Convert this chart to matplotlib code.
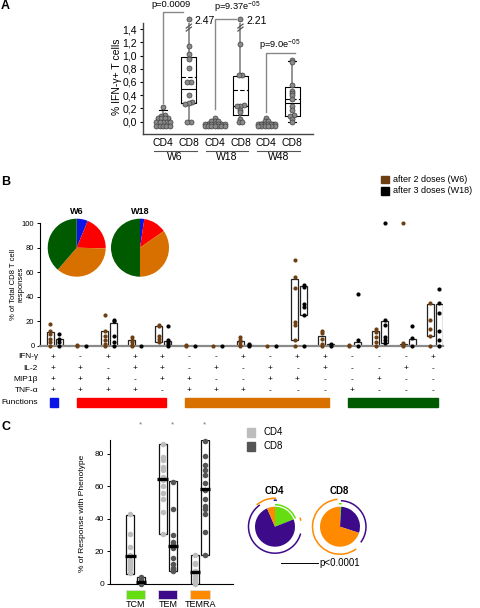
import matplotlib
matplotlib.use("Agg")
import matplotlib.pyplot as plt
import numpy as np
from matplotlib import transforms
from matplotlib.patches import Rectangle, Arc

plt.rcParams["font.family"] = ["Liberation Sans", "DejaVu Sans"]
plt.rcParams["mathtext.default"] = "regular"

W, H = 480, 608

# === Panel A: % IFN-g+ T cells ===
a_groups = ["CD4", "CD8", "CD4", "CD8", "CD4", "CD8"]
a_weeks = ["W6", "W18", "W48"]
a_points = [
    [0.22, 0.10, 0.09, 0.05, 0.05, 0.05, 0.05, 0.0, 0.0, 0.0, 0.0, 0.0,
     -0.06, -0.06, -0.06, -0.06, -0.06],
    [2.47, 1.15, 1.02, 0.95, 0.81, 0.60, 0.60, 0.41, 0.30, 0.29, 0.27, 0.0, 0.0],
    [0.05, 0.01, 0.01, 0.01, -0.03, -0.03, -0.03, -0.03, -0.03, -0.03, -0.03,
     -0.07, -0.07, -0.07, -0.07, -0.07, -0.07, -0.07],
    [2.21, 1.18, 0.70, 0.70, 0.25, 0.24, 0.23, 0.18, 0.15, 0.04, 0.0, 0.0],
    [0.05, 0.01, 0.01, -0.03, -0.03, -0.03, -0.03, -0.03, -0.03,
     -0.07, -0.07, -0.07, -0.07, -0.07, -0.07],
    [0.93, 0.90, 0.55, 0.47, 0.44, 0.41, 0.35, 0.24, 0.17, 0.10, 0.08, 0.04, 0.0],
]
a_q1 = [0.0, 0.28, 0.0, 0.10, 0.0, 0.09]
a_med = [0.0, 0.50, 0.0, 0.24, 0.0, 0.29]
a_q3 = [0.05, 0.98, 0.0, 0.69, 0.0, 0.52]
a_mean = [np.nan, 0.67, np.nan, 0.48, np.nan, 0.35]
a_whislo = [0.0, 0.0, 0.0, 0.0, 0.0, 0.0]
a_whishi = [0.18, 2.47, 0.0, 2.21, 0.0, 0.92]
a_pvals = ["p=0.0009", "p=9.37e$^{-05}$", "p=9.0e$^{-05}$"]
a_yticks = [0.0, 0.2, 0.4, 0.6, 0.8, 1.0, 1.2, 1.4]

# === Panel B: CD8 functional profiles ===
b_ifng = "+-+++--+-++---+"
b_il2 = "++-++-+-+-+--+-"
b_mip = "+++-++--++--+--"
b_tnf = "++++-+++---+---"
b_rows = ["IFN-\u03b3", "IL-2", "MIP1\u03b2", "TNF-\u03b1"]
b_w6 = [
    [18, 12, 10, 6, 3, 0], [1, 0], [25, 12, 8, 5, 2, 0], [7, 5, 3, 1, 0],
    [17, 16, 8, 6, 3], [1, 0], [0], [7, 5, 3, 1, 0], [0],
    [70, 56, 47, 19.5, 17, 4.5, 0], [12.5, 10.5, 6, 2, 0], [1, 0],
    [14, 11, 7, 3, 0], [100, 2.5, 1, 0], [35, 21, 14, 8, 0],
]
b_w18 = [
    [10, 6, 3, 0], [0], [21, 20, 8, 3, 0], [0], [16, 5, 3, 2, 0], [0], [0],
    [2, 1, 0], [0], [50, 48, 34.5, 32, 25, 0], [2, 0], [42.5, 4.5, 0],
    [100, 21, 17, 7, 4.5, 2.5], [16.3, 6.5, 0], [46, 35, 27, 12, 4.5, 0],
]
b_w6_lo = [0, np.nan, 0, 0, 3, np.nan, np.nan, 0, np.nan, 4.5, 0, np.nan, 0, 0, 8]
b_w6_hi = [11, np.nan, 12, 5, 16, np.nan, np.nan, 4, np.nan, 54.5, 8, np.nan, 12, 2, 34]
b_w18_lo = [1, np.nan, 0, np.nan, 1, np.nan, np.nan, 0, np.nan, 25, 0, 0, 2.5, 0, 0]
b_w18_hi = [6, np.nan, 19, np.nan, 4, np.nan, np.nan, 1, np.nan, 49, 1.5, 3.5, 20, 6, 34]
b_pie_titles = ["W6", "W18"]
b_pie_fracs = [[6.2, 19.2, 35.9, 38.7], [2.4, 12.9, 34.7, 50.0]]
b_legend = ["after 2 doses (W6)", "after 3 doses (W18)"]

# === Panel C: memory phenotype ===
c_phen = ["TCM", "TEM", "TEMRA"]
c_cd4 = [[43, 31, 23, 18, 15, 13, 11, 9, 7],
         [86, 78, 76, 72, 70, 66, 64, 60, 56, 52, 44, 31],
         [18, 13, 12, 8, 7, 5, 3, 2, 0]]
c_cd8 = [[4, 3, 2, 1, 0],
         [63, 46, 30, 26, 24, 22, 16, 12, 10, 9, 8],
         [88, 79, 73, 70, 67, 62, 58, 52, 48, 46, 43, 32, 18]]
c_cd4_box = [(6.2, 42.5), (30.8, 86.2), (0, 17.8)]
c_cd8_box = [(0, 4), (8.2, 63.6), (17.8, 88.6)]
c_cd4_med = [17.4, 64.4, 7.4]
c_cd8_med = [1.5, 23.6, 58.3]
c_pie_cd4 = [19.0, 74.5, 6.5]
c_pie_cd8 = [1.0, 29.0, 70.0]

# colours
fn_colors = {4: "#0a14e6", 3: "#ff0000", 2: "#d87000", 1: "#005a00"}
brown = "#6e3f13"
phen_colors = ["#66dd11", "#3d0a8a", "#ff8a00"]
cd4_gray, cd8_gray = "#bdbdbd", "#555555"


def fx(px):
    return px / W


def fy(py):
    return 1 - py / H


def px_axes(l, t, r, b):
    return fig.add_axes([l / W, 1 - b / H, (r - l) / W, (b - t) / H])


def swarm(vals, step, thr):
    vals = np.asarray(vals, float)
    order = np.argsort(vals)
    offs = np.zeros(len(vals))
    groups, cur = [], [order[0]]
    for p, c in zip(order[:-1], order[1:]):
        if vals[c] - vals[p] < thr:
            cur.append(c)
        else:
            groups.append(cur)
            cur = [c]
    groups.append(cur)
    for g in groups:
        for k, idx in enumerate(g):
            offs[idx] = (k - (len(g) - 1) / 2) * step
    return offs


fig = plt.figure(figsize=(W / 100, H / 100), dpi=100)

# ------------------------------------------------------------------ A
BREAK, SHOWN = 1.45, 1.55
axA = px_axes(143, 22.7, 313, 134)
axA.set_xlim(-0.775, 5.81)
axA.set_ylim(-0.186, 1.496)
pos = np.arange(6)
for i in range(6):
    hi = a_whishi[i] if a_whishi[i] <= BREAK else SHOWN
    st = dict(med=a_med[i], q1=a_q1[i], q3=a_q3[i], whislo=a_whislo[i], whishi=hi, fliers=[])
    has_mean = not np.isnan(a_mean[i])
    if has_mean:
        st["mean"] = a_mean[i]
    axA.bxp([st], positions=[i], widths=0.58, showmeans=has_mean, meanline=True,
            showcaps=True, patch_artist=False,
            boxprops=dict(color="black", lw=0.8),
            medianprops=dict(color="black", lw=0.8),
            meanprops=dict(color="black", lw=0.8, ls=(0, (4, 2))),
            whiskerprops=dict(color="#777777", lw=1.1),
            capprops=dict(color="black", lw=0.8),
            capwidths=0.3, manage_ticks=False)
    vals = np.array(a_points[i], float)
    shown = np.where(vals > BREAK, SHOWN, vals)
    xs = i + swarm(shown, 0.13, 0.025)
    axA.scatter(xs, shown, s=13, facecolor="#8a8a8a", edgecolor="#404040",
                lw=0.5, zorder=4, clip_on=False)
    if a_whishi[i] > BREAK:
        for dy in (0.0, 0.045):
            axA.plot([i - 0.1, i + 0.1], [1.37 + dy, 1.43 + dy], color="#555555",
                     lw=0.9, clip_on=False, zorder=5)
        axA.text(i + 0.22, SHOWN - 0.025, f"{a_whishi[i]:.2f}", fontsize=7.5,
                 va="center", ha="left")

a_br_lo = [0.28, 0.19, 0.15]
a_br_hi = [1.66, 1.55, 1.04]
a_br_x1 = [0.78, 2.83, 5.1]
a_ptx = [0.31, 2.87, 4.53]
a_pty = [1.765, 1.735, 1.16]
for k in range(3):
    x0 = 2 * k
    axA.plot([x0, x0, a_br_x1[k]], [a_br_lo[k], a_br_hi[k], a_br_hi[k]],
             color="#888888", lw=1.0, clip_on=False)
    axA.text(a_ptx[k], a_pty[k], a_pvals[k], fontsize=6.7, ha="center", va="center")

axA.set_yticks(a_yticks)
axA.set_yticklabels([f"{v:.1f}".replace(".", ",") for v in a_yticks], fontsize=7.5)
axA.set_xticks(pos)
axA.set_xticklabels(a_groups, fontsize=7.5)
axA.tick_params(axis="x", length=0, pad=3)
axA.tick_params(axis="y", length=2.5, width=0.8, pad=2)
for s in ("top", "right"):
    axA.spines[s].set_visible(False)
for s in ("left", "bottom"):
    axA.spines[s].set_color("#444444")
    axA.spines[s].set_linewidth(1.0)
axA.patch.set_alpha(0)
trA = transforms.blended_transform_factory(axA.transData, fig.transFigure)
for k, wk in enumerate(a_weeks):
    axA.plot([2 * k - 0.35, 2 * k + 1.3], [fy(151), fy(151)], color="#555555",
             lw=0.8, transform=trA, clip_on=False)
    axA.text(2 * k + 0.47, fy(157.5), wk, fontsize=7.5, ha="center", va="center",
             transform=trA)
fig.text(fx(117), fy(77), "% IFN-\u03b3+ T cells", rotation=90, fontsize=7.5,
         ha="center", va="center")

# ------------------------------------------------------------------ B
axB = px_axes(40, 223, 443, 346)
axB.set_xlim(-0.49, 14.36)
axB.set_ylim(0, 100)
ncat = len(b_w6)
for i in range(ncat):
    for pts, lo, hi, off, col in ((b_w6[i], b_w6_lo[i], b_w6_hi[i], -0.11, brown),
                                   (b_w18[i], b_w18_lo[i], b_w18_hi[i], 0.22, "black")):
        if not np.isnan(lo):
            axB.add_patch(Rectangle((i + off - 0.13, lo), 0.26, hi - lo,
                                    facecolor="white", edgecolor="#222222",
                                    lw=0.9, zorder=2))
        axB.scatter(np.full(len(pts), i + off), pts, s=9, color=col, lw=0,
                    zorder=3, clip_on=False)
axB.set_yticks(range(0, 101, 20))
axB.tick_params(axis="y", labelsize=5.5, length=2.5, width=0.7, pad=1.5)
axB.set_xticks([])
for s in ("top", "right"):
    axB.spines[s].set_visible(False)
axB.spines["left"].set_linewidth(0.8)
axB.spines["bottom"].set_color("#8a8a8a")
axB.spines["bottom"].set_linewidth(1.6)
axB.patch.set_alpha(0)
fig.text(fx(17), fy(284), "% of Total CD8 T cell\nresponses", rotation=90,
         fontsize=5.5, ha="center", va="center", linespacing=1.1)

trB = transforms.blended_transform_factory(axB.transData, fig.transFigure)
row_y = [357, 368.3, 379.6, 390.9]
for r, (name, signs) in enumerate(zip(b_rows, (b_ifng, b_il2, b_mip, b_tnf))):
    fig.text(fx(38), fy(row_y[r]), name, fontsize=6, ha="right", va="center")
    for i, sg in enumerate(signs):
        axB.text(i, fy(row_y[r]), sg, fontsize=6, ha="center", va="center",
                 transform=trB)
fig.text(fx(38), fy(402.5), "Functions", fontsize=6, ha="right", va="center")
nfun = [sum(s[i] == "+" for s in (b_ifng, b_il2, b_mip, b_tnf)) for i in range(ncat)]
start = 0
for i in range(1, ncat + 1):
    if i == ncat or nfun[i] != nfun[start]:
        axB.add_patch(Rectangle((start - 0.13, fy(406.5)), (i - 1 - start) + 0.3,
                                fy(398) - fy(406.5), color=fn_colors[nfun[start]],
                                transform=trB, clip_on=False))
        start = i

pie_cx = [76.7, 140]
for k in range(2):
    axp = px_axes(pie_cx[k] - 30, 247.7 - 30, pie_cx[k] + 30, 247.7 + 30)
    axp.pie(b_pie_fracs[k], colors=[fn_colors[4], fn_colors[3], fn_colors[2], fn_colors[1]],
            startangle=90, counterclock=False, radius=29)
    axp.set_xlim(-30, 30)
    axp.set_ylim(-30, 30)
    axp.set_aspect("equal")
    axp.axis("off")
    fig.text(fx(pie_cx[k]), fy(212), b_pie_titles[k], fontsize=6.5, weight="bold",
             ha="center", va="center")

for k, (lab, col) in enumerate(zip(b_legend, (brown, "black"))):
    y0 = 176 + 11 * k
    fig.add_artist(Rectangle((fx(381), fy(y0 + 7.5)), 8 / W, 7.5 / H, color=col,
                             transform=fig.transFigure))
    fig.text(fx(393), fy(y0 + 3.8), lab, fontsize=6.5, ha="left", va="center")

# ------------------------------------------------------------------ C
axC = px_axes(110, 440, 233, 584)
axC.set_xlim(-0.79, 3.02)
axC.set_ylim(0, 88.6)
for i in range(3):
    for pts, box, med, off, col in ((c_cd4[i], c_cd4_box[i], c_cd4_med[i], -0.16, cd4_gray),
                                    (c_cd8[i], c_cd8_box[i], c_cd8_med[i], 0.16, cd8_gray)):
        axC.add_patch(Rectangle((i + off - 0.125, box[0]), 0.25, box[1] - box[0],
                                facecolor="white", edgecolor="#111111", lw=0.9, zorder=2))
        axC.scatter(np.full(len(pts), i + off), pts, s=16, color=col, lw=0,
                    zorder=3, clip_on=False)
        axC.plot([i + off - 0.16, i + off + 0.16], [med, med], color="black", lw=2.4,
                 zorder=4, solid_capstyle="butt")
    axC.text(i + 0.15, 98, "*", fontsize=6, color="#777777", ha="center", va="center",
             clip_on=False)
axC.set_yticks([0, 20, 40, 60, 80])
axC.tick_params(axis="y", labelsize=6, length=2.5, width=0.7, pad=1.5)
axC.set_xticks([])
for s in ("top", "right"):
    axC.spines[s].set_visible(False)
axC.spines["left"].set_linewidth(0.8)
axC.spines["bottom"].set_linewidth(0.8)
axC.patch.set_alpha(0)
trC = transforms.blended_transform_factory(axC.transData, fig.transFigure)
for i, name in enumerate(c_phen):
    axC.add_patch(Rectangle((i - 0.3, fy(598.5)), 0.6, fy(590) - fy(598.5),
                            facecolor=phen_colors[i], edgecolor="#dddddd", lw=0.6,
                            transform=trC, clip_on=False))
    axC.text(i, fy(604.5), name, fontsize=6.5, ha="center", va="center", transform=trC)
fig.text(fx(83), fy(513), "% of Response with Phenotype", rotation=90, fontsize=6,
         ha="center", va="center")
for k, (lab, col) in enumerate(zip(["CD4", "CD8"], (cd4_gray, cd8_gray))):
    y0 = 428 + 14 * k
    fig.add_artist(Rectangle((fx(247), fy(y0 + 8.5)), 8.5 / W, 8.5 / H, color=col,
                             transform=fig.transFigure))
    fig.text(fx(264), fy(y0 + 4.3), lab, fontsize=7, ha="left", va="center")

c_arcs = [
    [(26.5, 125, 345, phen_colors[1]), (28.5, 88, 130, phen_colors[2]),
     (22, 22, 90, phen_colors[0]), (26.5, 13, 20, phen_colors[2]),
     (26.5, 86, 93, phen_colors[1])],
    [(27.5, 95, 306, phen_colors[2]), (26, -37, 88, phen_colors[1]),
     (23, 86, 93, phen_colors[0])],
]
for k, (cx, fr, lab) in enumerate(zip([275, 340], [c_pie_cd4, c_pie_cd8], ["CD4", "CD8"])):
    axp = px_axes(cx - 32, 526.7 - 32, cx + 32, 526.7 + 32)
    axp.pie(fr, colors=phen_colors, startangle=90, counterclock=False, radius=20)
    for rad, t1, t2, col in c_arcs[k]:
        axp.add_patch(Arc((0, 0), 2 * rad, 2 * rad, theta1=t1, theta2=t2, color=col, lw=1.1))
    axp.set_xlim(-32, 32)
    axp.set_ylim(-32, 32)
    axp.set_aspect("equal")
    axp.axis("off")
    fig.text(fx(cx - 1), fy(491.5), lab, fontsize=7, weight="bold", ha="center", va="center")
fig.add_artist(plt.Line2D([fx(281), fx(318)], [fy(563), fy(563)], color="black", lw=0.7))
fig.text(fx(319), fy(563), "p<0.0001", fontsize=7, ha="left", va="center")

# panel letters
for lab, py in (("A", 6), ("B", 182), ("C", 427)):
    fig.text(fx(1), fy(py), lab, fontsize=9, weight="bold", ha="left", va="center")

fig.savefig("out.png", dpi=100)
